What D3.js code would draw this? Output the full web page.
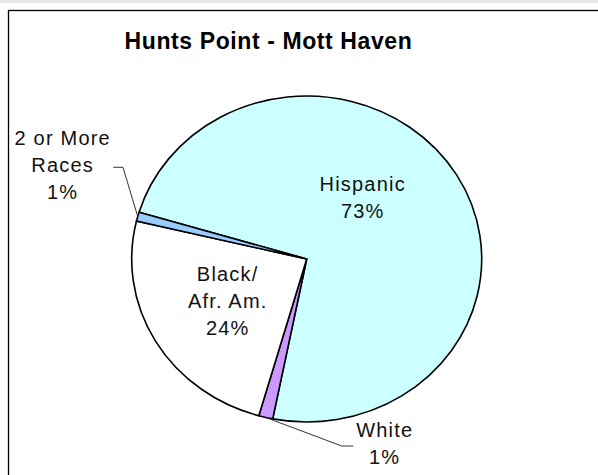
<!DOCTYPE html>
<html>
<head>
<meta charset="utf-8">
<script src="https://cdn.jsdelivr.net/npm/d3@7"></script>
<style>
  html, body { margin: 0; padding: 0; background: #fff; overflow: hidden; }
  svg { display: block; font-family: 'Liberation Sans', Arial, sans-serif; }
</style>
</head>
<body>
<div id="chart"></div>
<script>
// data
const categories = ['Hispanic', 'White', 'Black/ Afr. Am.', '2 or More Races'];
const labelLines = [['Hispanic'], ['White'], ['Black/', 'Afr. Am.'], ['2 or More', 'Races']];
const values = [73.4, 1.3, 24.3, 0.9];
const pctLabels = ['73%', '1%', '24%', '1%'];
const title = 'Hunts Point - Mott Haven';

// layout
const width = 598, height = 475;
const cx = 306.7, cy = 259, rx = 175, ry = 163;
const startDeg = 286.7;
const colors = ['#ccffff', '#cc99ff', '#ffffff', '#99ccff'];
// label anchors relative to pie centre (first baseline) and leader elbows
const labelPos = [
  { dx: 56, dy: -68 },
  { dx: 78, dy: 178, leader: [[35, 187], [46.6, 187]] },
  { dx: -79, dy: 22 },
  { dx: -244, dy: -114, leader: [[-183.7, -91.7], [-193.4, -91.7]] }
];
const lineGap = 27;

const svg = d3.select('#chart')
  .append('svg')
  .attr('width', width)
  .attr('height', height);

// grey strip at the very top of the page
svg.append('rect')
  .attr('x', 0).attr('y', 0)
  .attr('width', width).attr('height', 3)
  .attr('fill', '#e6e6e6');

// chart frame (runs off the right and bottom)
svg.append('rect')
  .attr('x', 8.5).attr('y', 10.5)
  .attr('width', 700).attr('height', 600)
  .attr('fill', '#fff')
  .attr('stroke', '#000')
  .attr('stroke-width', 1.3);

svg.append('text')
  .attr('x', 268.5)
  .attr('y', 49)
  .attr('text-anchor', 'middle')
  .attr('font-weight', 700)
  .attr('font-size', '23px')
  .attr('letter-spacing', '0.6px')
  .attr('fill', '#000')
  .text(title);

const pie = d3.pie()
  .sort(null)
  .value(d => d)
  .startAngle(startDeg * Math.PI / 180)
  .endAngle(startDeg * Math.PI / 180 + 2 * Math.PI);

const arcs = pie(values);

const arc = d3.arc()
  .innerRadius(0)
  .outerRadius(ry);

const pieG = svg.append('g')
  .attr('transform', `translate(${cx},${cy}) scale(${rx / ry},1)`);

pieG.selectAll('path')
  .data(arcs)
  .enter()
  .append('path')
  .attr('d', arc)
  .attr('fill', (_, i) => colors[i])
  .attr('stroke', '#000')
  .attr('stroke-width', 1.6)
  .attr('stroke-linejoin', 'miter')
  .attr('vector-effect', 'non-scaling-stroke');

// leader lines for the thin slices
arcs.forEach((a, i) => {
  const lp = labelPos[i];
  if (!lp.leader) return;
  const mid = (a.startAngle + a.endAngle) / 2;
  const pts = [[cx + rx * Math.sin(mid), cy - ry * Math.cos(mid)]]
    .concat(lp.leader.map(p => [cx + p[0], cy + p[1]]));
  svg.append('path')
    .attr('d', d3.line()(pts))
    .attr('fill', 'none')
    .attr('stroke', '#333')
    .attr('stroke-width', 1);
});

// slice labels
const labels = svg.selectAll('text.lbl')
  .data(arcs)
  .enter()
  .append('text')
  .attr('class', 'lbl')
  .attr('text-anchor', 'middle')
  .attr('font-size', '20px')
  .attr('letter-spacing', '1.2px')
  .attr('fill', '#111');

labels.each(function (d, i) {
  const lp = labelPos[i];
  const lines = labelLines[i].concat([pctLabels[i]]);
  d3.select(this).selectAll('tspan')
    .data(lines)
    .enter()
    .append('tspan')
    .attr('x', cx + lp.dx)
    .attr('y', (_, j) => cy + lp.dy + j * lineGap)
    .text(t => t);
});
</script>
</body>
</html>
